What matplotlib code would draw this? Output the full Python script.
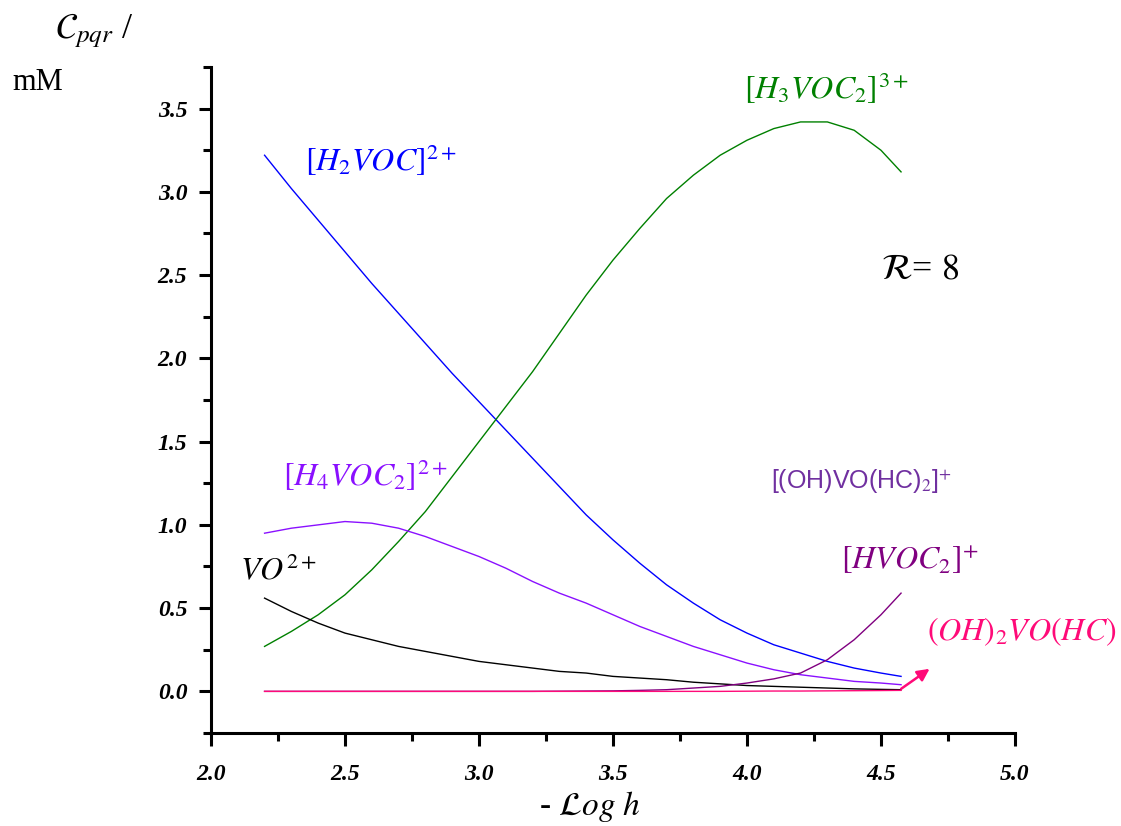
"""Species distribution of the oxovanadium(IV) system at R = 8."""
import matplotlib
matplotlib.use('Agg')
import matplotlib.pyplot as plt
from matplotlib.ticker import MultipleLocator, FormatStrFormatter

plt.rcParams['mathtext.fontset'] = 'stix'
plt.rcParams['font.family'] = ['Liberation Serif', 'DejaVu Serif']

# -log h values at which the concentrations were read
X = [2.2, 2.3, 2.4, 2.5, 2.6, 2.7, 2.8, 2.9, 3.0, 3.1, 3.2, 3.3, 3.4, 3.5,
     3.6, 3.7, 3.8, 3.9, 4.0, 4.1, 4.2, 4.3, 4.4, 4.5, 4.575]

# concentrations, mM
H2VOC = [3.22, 3.02, 2.83, 2.64, 2.45, 2.27, 2.09, 1.91, 1.74, 1.57, 1.40,
         1.23, 1.06, 0.91, 0.77, 0.64, 0.53, 0.43, 0.35, 0.28, 0.23, 0.18,
         0.14, 0.11, 0.09]
H3VOC2 = [0.27, 0.36, 0.46, 0.58, 0.73, 0.90, 1.08, 1.29, 1.50, 1.71, 1.92,
          2.15, 2.38, 2.59, 2.78, 2.96, 3.10, 3.22, 3.31, 3.38, 3.42, 3.42,
          3.37, 3.25, 3.12]
H4VOC2 = [0.95, 0.98, 1.00, 1.02, 1.01, 0.98, 0.93, 0.87, 0.81, 0.74, 0.66,
          0.59, 0.53, 0.46, 0.39, 0.33, 0.27, 0.22, 0.17, 0.13, 0.10, 0.08,
          0.06, 0.05, 0.04]
VO = [0.56, 0.48, 0.41, 0.35, 0.31, 0.27, 0.24, 0.21, 0.18, 0.16, 0.14,
      0.12, 0.11, 0.09, 0.08, 0.07, 0.055, 0.045, 0.035, 0.03, 0.025, 0.02,
      0.015, 0.012, 0.01]
HVOC2 = [0.0, 0.0, 0.0, 0.0, 0.0, 0.0, 0.0, 0.0, 0.0, 0.0, 0.0, 0.001,
         0.002, 0.003, 0.006, 0.01, 0.02, 0.03, 0.05, 0.075, 0.11, 0.19,
         0.31, 0.46, 0.59]
OH2VOHC = [0.0] * 18 + [0.001, 0.002, 0.002, 0.003, 0.004, 0.005, 0.006]

SERIES = [
    (H2VOC, '#0000ff'),
    (H3VOC2, '#008000'),
    (H4VOC2, '#8a10ff'),
    (VO, '#000000'),
    (HVOC2, '#800080'),
    (OH2VOHC, '#ff0a78'),
]


def main():
    fig = plt.figure(figsize=(11.21, 8.26), dpi=100)
    ax = fig.add_axes([0.1882, 0.1126, 0.7172, 0.8063])

    for ys, c in SERIES:
        ax.plot(X, ys, color=c, lw=1.0)

    ax.set_xlim(2.0, 5.0)
    ax.set_ylim(-0.25, 3.75)
    for s in ('top', 'right'):
        ax.spines[s].set_visible(False)
    for s in ('left', 'bottom'):
        ax.spines[s].set_linewidth(2.2)

    ax.xaxis.set_major_locator(MultipleLocator(0.5))
    ax.xaxis.set_minor_locator(MultipleLocator(0.25))
    ax.yaxis.set_major_locator(MultipleLocator(0.5))
    ax.yaxis.set_minor_locator(MultipleLocator(0.25))
    ax.xaxis.set_major_formatter(FormatStrFormatter('%.1f'))
    ax.yaxis.set_major_formatter(FormatStrFormatter('%.1f'))
    ax.tick_params(which='major', direction='out', length=9, width=2.2,
                   labelsize=17)
    ax.tick_params(which='minor', direction='out', length=6, width=2.2)
    ax.tick_params(axis='x', which='major', pad=13)
    ax.tick_params(axis='y', which='major', pad=8)
    for lab in ax.get_xticklabels() + ax.get_yticklabels():
        lab.set_fontstyle('italic')
        lab.set_fontweight('bold')

    # species labels
    tkw = dict(fontsize=23, va='center', ha='left')
    ax.text(2.35, 3.19, r'$[H_2VOC]^{2+}$', color='#0000ff', **tkw)
    ax.text(3.99, 3.62, r'$[H_3VOC_2]^{3+}$', color='#008000', **tkw)
    ax.text(2.27, 1.30, r'$[H_4VOC_2]^{2+}$', color='#8a10ff', **tkw)
    ax.text(2.11, 0.72, r'$VO^{2+}$', color='black', **tkw)
    ax.text(4.35, 0.79, r'$[HVOC_2]^{+}$', color='#800080', **tkw)
    ax.text(4.67, 0.36, r'$(OH)_2VO(HC)$', color='#ff0a78', **tkw)
    ax.text(4.5, 2.53, r'$\mathcal{R}$= $8$', color='black', fontsize=26,
            va='center', ha='left')
    ax.text(4.09, 1.26, r'[(OH)VO(HC)$_2$]$^{+}$', color='#7030a0',
            fontsize=18, family='Liberation Sans', va='center', ha='left')

    ax.annotate('', xy=(4.69, 0.145), xytext=(4.567, 0.006),
                arrowprops=dict(arrowstyle='-|>', color='#ff0a78', lw=1.8,
                                mutation_scale=18))

    # axis titles
    fig.text(0.049, 0.963, r'$\mathcal{C}_{pqr}$ /', fontsize=26,
             va='center', ha='left')
    fig.text(0.011, 0.900, 'mM', fontsize=22, va='center', ha='left')
    fig.text(0.526, 0.024, r'- $\mathcal{L}og\ h$', fontsize=24,
             va='center', ha='center')

    fig.savefig('out.png', dpi=100)


if __name__ == '__main__':
    main()
